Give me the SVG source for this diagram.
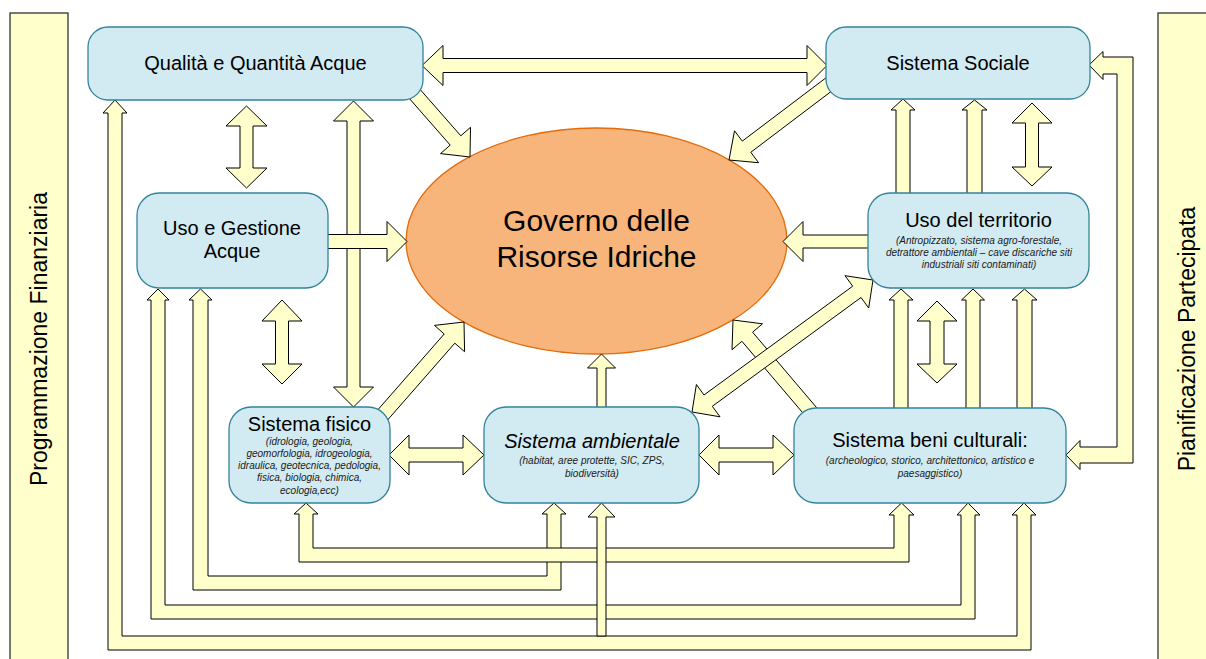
<svg xmlns="http://www.w3.org/2000/svg" width="1206" height="659" viewBox="0 0 1206 659">
<style>
.panel{fill:#FFFFCC;stroke:#222;stroke-width:1.2}
.arrow{fill:#FFFFCC;stroke:#000;stroke-width:1;stroke-linejoin:miter}
.box{fill:#D2EAF1;stroke:#31849B;stroke-width:1.3}
.ell{fill:#F7B57C;stroke:#E46C0A;stroke-width:1.3}
text{font-family:"Liberation Sans",Arial,sans-serif;fill:#000}
.t{font-size:20px;text-anchor:middle}
.ti{font-size:20px;text-anchor:middle;font-style:italic}
.s{font-size:10px;text-anchor:middle;font-style:italic;fill:#1a1a1a}
.g{font-size:30px;text-anchor:middle}
.p{font-size:23px;text-anchor:middle}
</style>
<rect width="1206" height="659" fill="#fff"/>
<g id="panel-left">
<rect class="panel" x="10" y="13" width="58" height="660"/>
<text class="p" transform="translate(47,339) rotate(-90)">Programmazione Finanziaria</text>
</g>
<g id="panel-right">
<rect class="panel" x="1158" y="13" width="60" height="660"/>
<text class="p" transform="translate(1195,339) rotate(-90)">Pianificazione Partecipata</text>
</g>
<g id="governo">
<ellipse class="ell" cx="596.5" cy="241" rx="190.5" ry="113"/>
<text class="g" x="596.5" y="231">Governo delle</text>
<text class="g" x="596.5" y="267">Risorse Idriche</text>
</g>
<g id="connectors">
<!-- bottom U connectors -->
<polygon class="arrow" points="115,100 127,113 122,113 122,636 1017,636 1017,515 1012,515 1024,503 1036,515 1031,515 1031,650 108,650 108,113 103,113"/>
<polygon class="arrow" points="158,289 169,300 165,300 165,605 961,605 961,515 957,515 968,503 980,515 975,515 975,619 151,619 151,300 147,300"/>
<polygon class="arrow" points="200.5,289 212,300 208,300 208,576 547,576 547,514 542,514 554,503 566,514 561,514 561,590 193,590 193,300 189,300"/>
<polygon class="arrow" points="306,503 318,514 313,514 313,548 894,548 894,515 889,515 901.5,503 914,515 909,515 909,562 299,562 299,514 294,514"/>
<polygon class="arrow" points="601.5,503 615,517 606,517 606,636 597,636 597,517 588,517"/>
<!-- right loop Sociale <-> beni -->
<polygon class="arrow" points="1089,65 1103,51.5 1103,57 1133,57 1133,463 1080,463 1080,469.5 1066,455 1080,440.5 1080,447 1117,447 1117,74 1103,74 1103,79.5"/>
<!-- vertical double arrows -->
<polygon class="arrow" points="246.5,106 267,126 253,126 253,168 267,168 246.5,188 226,168 240,168 240,126 226,126"/>
<polygon class="arrow" points="282,300 302,321 288.5,321 288.5,364 302,364 282,384 262,364 275.5,364 275.5,321 262,321"/>
<polygon class="arrow" points="353.5,101 373.5,121 360,121 360,387 373.5,387 353.5,407 333.5,387 347,387 347,121 333.5,121"/>
<polygon class="arrow" points="1032,103 1052,123 1038.5,123 1038.5,167 1052,167 1032,186 1012,167 1025.5,167 1025.5,123 1012,123"/>
<polygon class="arrow" points="937,301 957,321 944,321 944,364 957,364 937,383 917,364 930,364 930,321 917,321"/>
<!-- single up arrows -->
<polygon class="arrow" points="903,99 915,110 910,110 910,194 896,194 896,110 891,110"/>
<polygon class="arrow" points="974.5,100 987,110 982,110 982,194 967,194 967,110 962,110"/>
<polygon class="arrow" points="901,289 913,300 908,300 908,409 894,409 894,300 889,300"/>
<polygon class="arrow" points="973,289 984.5,300 980,300 980,409 966,409 966,300 961.5,300"/>
<polygon class="arrow" points="1024.5,289 1037,300 1032,300 1032,409 1017,409 1017,300 1012,300"/>
<polygon class="arrow" points="601.5,354 615.5,368 606,368 606,408 597,408 597,368 587.5,368"/>
<!-- horizontal arrows -->
<polygon class="arrow" points="422,65.5 443,45.5 443,58.5 807,58.5 807,45.5 827,65.5 807,85.5 807,72.5 443,72.5 443,85.5"/>
<polygon class="arrow" points="389,455 409,435 409,448 463,448 463,435 484,455 463,475 463,462 409,462 409,475"/>
<polygon class="arrow" points="699,455 719,435 719,448 773,448 773,435 794,455 773,475 773,462 719,462 719,475"/>
<polygon class="arrow" points="320,234.5 387,234.5 387,221.5 407,241.5 387,261.5 387,248.5 320,248.5"/>
<polygon class="arrow" points="783,241.5 803,221.5 803,235 875,235 875,248 803,248 803,261.5"/>
<!-- diagonal arrows -->
<polygon class="arrow" points="407.7,96.6 450.2,145.1 440.5,153.6 470,157 470.5,127.3 460.8,135.8 418.3,87.4"/>
<polygon class="arrow" points="831.8,73.4 742.3,141.1 734.5,130.8 729,160 758.6,162.7 750.8,152.3 840.2,84.6"/>
<polygon class="arrow" points="385.3,422.6 454.8,343.2 464.6,351.7 464,322 434.5,325.4 444.2,334 374.7,413.4"/>
<polygon class="arrow" points="823.3,415.5 752.6,332.2 762.5,323.8 733,320 732,349.7 741.9,341.3 812.7,424.5"/>
<polygon class="arrow" points="873,280 868.7,308 861,297.5 712.3,406.3 720,416.8 692,412 696.4,384.5 704,395 852.7,286.2 845,275.7"/>
</g>
<g id="qualita">
<rect class="box" x="88" y="27" width="335" height="73" rx="20"/>
<text class="t" x="255.5" y="70">Qualità e Quantità Acque</text>
</g>
<g id="sociale">
<rect class="box" x="826" y="27" width="264" height="72" rx="20"/>
<text class="t" x="958" y="69.5">Sistema Sociale</text>
</g>
<g id="uso-gestione">
<rect class="box" x="137" y="193" width="191" height="95" rx="22"/>
<text class="t" x="232" y="235">Uso e Gestione</text>
<text class="t" x="232" y="258">Acque</text>
</g>
<g id="uso-territorio">
<rect class="box" x="868" y="193" width="221" height="95" rx="22"/>
<text class="t" x="978.5" y="227">Uso del territorio</text>
<text class="s" x="979" y="244">(Antropizzato, sistema agro-forestale,</text>
<text class="s" x="979" y="256">detrattore ambientali – cave discariche siti</text>
<text class="s" x="979" y="268">industriali siti contaminati)</text>
</g>
<g id="sistema-fisico">
<rect class="box" x="229" y="407" width="161" height="96" rx="22"/>
<text class="t" x="309.5" y="431">Sistema fisico</text>
<text class="s" x="309.5" y="445">(idrologia, geologia,</text>
<text class="s" x="309.5" y="457">geomorfologia, idrogeologia,</text>
<text class="s" x="309.5" y="469">idraulica, geotecnica, pedologia,</text>
<text class="s" x="309.5" y="481">fisica, biologia, chimica,</text>
<text class="s" x="309.5" y="494">ecologia,ecc)</text>
</g>
<g id="sistema-ambientale">
<rect class="box" x="484" y="407" width="215" height="96" rx="22"/>
<text class="ti" x="592" y="448">Sistema ambientale</text>
<text class="s" x="592" y="464">(habitat, aree protette, SIC, ZPS,</text>
<text class="s" x="592" y="477">biodiversità)</text>
</g>
<g id="beni-culturali">
<rect class="box" x="794" y="408" width="272" height="95" rx="22"/>
<text class="t" x="930" y="447">Sistema beni culturali:</text>
<text class="s" x="930" y="464">(archeologico, storico, architettonico, artistico e</text>
<text class="s" x="930" y="477">paesaggistico)</text>
</g>
</svg>
